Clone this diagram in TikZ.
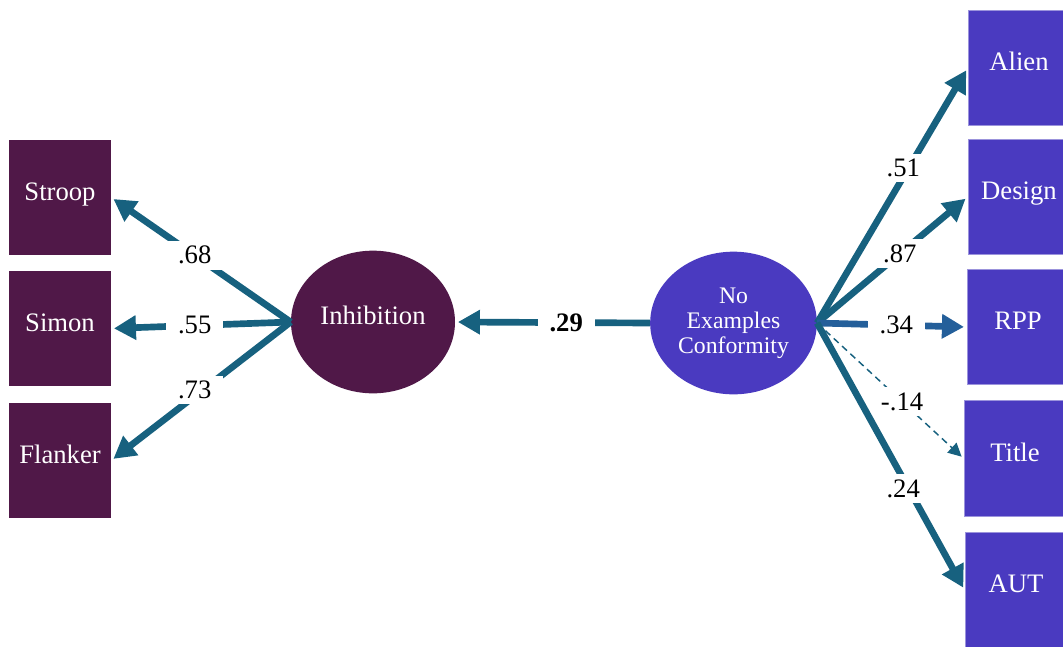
\documentclass[tikz,border=0pt]{standalone}
\usepackage{fontspec}
\setmainfont{Liberation Serif}
\usetikzlibrary{arrows.meta,shapes.geometric}
\definecolor{inhfill}{HTML}{501848}
\definecolor{necfill}{HTML}{4A3AC0}
\definecolor{pathc}{HTML}{17617F}
\definecolor{pathb}{HTML}{245F9A}
\begin{document}
\begin{tikzpicture}[x=0.75pt,y=-0.75pt,
  measure/.style={rectangle, minimum width=76.5pt, minimum height=86.5pt, inner sep=0pt,
    text=white, text height=14pt, text depth=10pt, font=\fontsize{20}{24}\selectfont},
  inhbox/.style={measure, fill=inhfill},
  necbox/.style={measure, fill=necfill, draw=necfill!55!white, line width=0.6pt},
  factor/.style={ellipse, inner sep=0pt, minimum width=123pt, minimum height=107pt,
    text=white, align=center},
  load/.style={draw=pathc, line width=5pt, shorten >=2pt,
    -{Triangle[length=16.5pt,width=17.5pt]}},
  weak/.style={draw=pathc, line width=1.1pt, dash pattern=on 5pt off 3.5pt, shorten >=2pt,
    -{Triangle[length=10pt,width=10pt]}},
  coef/.style={fill=white, text=black, inner xsep=9pt, inner ysep=4pt,
    font=\fontsize{20}{24}\selectfont}]

\useasboundingbox (0,0) rectangle (1063,646);
\clip (0,0) rectangle (1063,646);

% inhibition indicators
\node[inhbox] (stroop)  at (60,197.5) {Stroop};
\node[inhbox] (simon)   at (60,328.5) {Simon};
\node[inhbox] (flanker) at (60,460.5) {Flanker};

% latent factors
\node[factor, fill=inhfill, text height=14pt, text depth=10pt,
  font=\fontsize{20}{24}\selectfont] (inh) at (373,322) {Inhibition};
\node[factor, fill=necfill, minimum width=125pt, font=\fontsize{17.8}{18.75}\selectfont]
  (nec) at (733.5,323) {No\\Examples\\Conformity\rule[-3pt]{0pt}{3pt}};

% conformity indicators
\node[necbox] (alien)  at (1019,68)    {Alien};
\node[necbox] (design) at (1019,197)   {Design};
\node[necbox] (rpp)    at (1018,327)   {RPP};
\node[necbox] (title)  at (1015,458.5) {Title};
\node[necbox] (aut)    at (1016,590)   {AUT};

% loadings on inhibition
\draw[load] (inh.west) -- node[coef, pos=0.52, xshift=-2pt, yshift=1.5pt] {.68} (stroop.east);
\draw[load] (inh.west) -- node[coef, pos=0.52, xshift=-2pt] {.55} (simon.east);
\draw[load] (inh.west) -- node[coef, pos=0.52, xshift=-2pt, yshift=3pt] {.73} (flanker.east);

% structural path
\draw[load] (nec.west) -- node[coef, pos=0.43, font=\fontsize{20}{24}\selectfont\bfseries] {.29} (inh.east);

% loadings on conformity
\draw[load] (nec.east) -- node[coef, pos=0.6, xshift=-3pt, yshift=1.5pt]  {.51} (alien.west);
\draw[load] (nec.east) -- node[coef, pos=0.55] {.87} (design.west);
\draw[load, draw=pathb] (nec.east) -- node[coef, pos=0.53] {.34} (rpp.west);
\draw[weak] (nec.east) -- node[coef, pos=0.58] {-.14} (title.west);
\draw[load] (nec.east) -- node[coef, pos=0.62, xshift=-4pt] {.24} (aut.west);
\end{tikzpicture}
\end{document}
